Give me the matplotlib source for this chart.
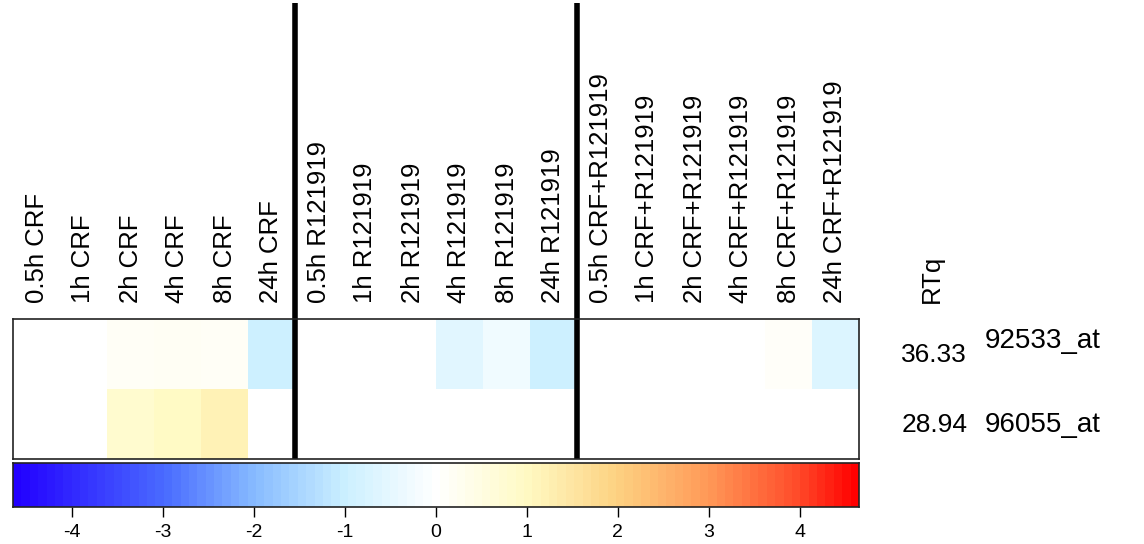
import numpy as np
import matplotlib.pyplot as plt
from matplotlib.colors import LinearSegmentedColormap, Normalize

plt.rcParams['font.family'] = ['Liberation Sans', 'DejaVu Sans']

W, H = 1144, 544

conditions = ['0.5h CRF', '1h CRF', '2h CRF', '4h CRF', '8h CRF', '24h CRF',
              '0.5h R121919', '1h R121919', '2h R121919', '4h R121919', '8h R121919', '24h R121919',
              '0.5h CRF+R121919', '1h CRF+R121919', '2h CRF+R121919', '4h CRF+R121919',
              '8h CRF+R121919', '24h CRF+R121919']
probes = ['92533_at', '96055_at']
rtq = ['36.33', '28.94']

row_92533 = [0, 0, 0.15, 0.2, 0.15, -1.0, 0, 0, 0, -0.6, -0.3, -1.0, 0, 0, 0, 0, 0.12, -0.7]
row_96055 = [0, 0, 0.8, 1.0, 1.2, 0, 0, 0, 0, 0, 0, 0, 0, 0, 0, 0, 0, 0]

group_breaks = [6, 12]
vmax = 4.65
bar_ticks = [-4, -3, -2, -1, 0, 1, 2, 3, 4]

# colour ramp blue -> white -> yellow -> red
stops = [(-4.65, '#2200ff'), (-3.0, '#4a6cff'), (-2.0, '#88bcff'), (-1.0, '#ccf0ff'),
         (0.0, '#ffffff'), (1.0, '#fffac4'), (2.0, '#fdd282'), (3.0, '#ff9a58'),
         (4.0, '#ff4c2a'), (4.65, '#ff0000')]
ramp = [((v + vmax) / (2 * vmax), c) for v, c in stops]
cmap = LinearSegmentedColormap.from_list('bwyr', ramp, N=255)
key_cmap = LinearSegmentedColormap.from_list('bwyr_key', ramp, N=101)
norm = Normalize(-vmax, vmax)

fig = plt.figure(figsize=(W / 100, H / 100), dpi=100)


def px_axes(x0, y0, x1, y1):
    return fig.add_axes([x0 / W, 1 - y1 / H, (x1 - x0) / W, (y1 - y0) / H])


# heatmap
ax = px_axes(13, 319, 859, 459)
data = np.array([row_92533, row_96055])
ax.pcolormesh(np.arange(len(conditions) + 1), np.arange(len(probes) + 1), data,
              cmap=cmap, norm=norm)
ax.set_xlim(0, len(conditions))
ax.set_ylim(len(probes), 0)
ax.set_xticks([])
ax.set_yticks([])
for s in ax.spines.values():
    s.set_linewidth(1.2)
    s.set_color('#222222')

row_px = 140 / len(probes)
top_row = -(319 - 3) / row_px
for b in group_breaks:
    ax.plot([b, b], [len(probes), top_row], color='black', lw=4, clip_on=False,
            solid_capstyle='butt')

label_y = -16 / row_px
for i, lab in enumerate(conditions):
    ax.text(i + 0.5, label_y, lab, rotation=90, ha='center', va='bottom', fontsize=18.5)

ax.text(len(conditions) + 1.55, label_y, 'RTq', rotation=90, ha='center', va='bottom',
        fontsize=18.5)
for j in range(len(probes)):
    ax.text(len(conditions) + 0.9, j + 0.52, rtq[j], ha='left', va='center', fontsize=19)
    ax.text(len(conditions) + 2.68, j + 0.52 - (0.2 if j == 0 else 0), probes[j],
            ha='left', va='center', fontsize=20)

# colour key
cax = px_axes(13, 463, 859, 507)
grad = np.linspace(-vmax, vmax, 101)
cax.pcolormesh(np.linspace(-vmax, vmax, 102), [0, 1], grad[None, :], cmap=key_cmap, norm=norm)
cax.set_xlim(-vmax, vmax)
cax.set_ylim(0, 1)
cax.set_yticks([])
cax.set_xticks(bar_ticks)
cax.set_xticklabels([str(t) for t in bar_ticks], fontsize=14)
cax.tick_params(axis='x', length=7, width=1, pad=5)
for s in cax.spines.values():
    s.set_linewidth(1.2)
    s.set_color('#222222')

fig.savefig('out.png', dpi=100)
